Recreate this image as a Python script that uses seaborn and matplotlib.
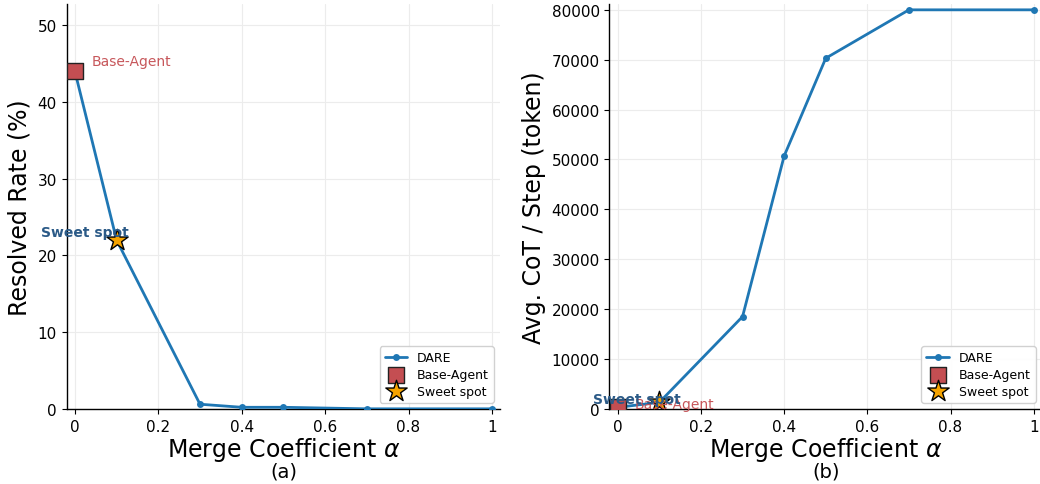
import matplotlib
matplotlib.use("Agg")
import matplotlib.pyplot as plt
import seaborn as sns
import pandas as pd

# Merge coefficient sweep (DARE merging)
alpha = [0.0, 0.1, 0.3, 0.4, 0.5, 0.7, 1.0]
resolved_rate = [44.0, 22.0, 0.6, 0.2, 0.2, 0.0, 0.0]
cot_tokens = [300, 1300, 18500, 50700, 70300, 80000, 80000]

# Reference points
base_alpha = 0.0
base_resolved = 44.0
base_cot = 300
sweet_alpha = 0.1
sweet_resolved = 22.0
sweet_cot = 1300

xticks = [0, 0.2, 0.4, 0.6, 0.8, 1.0]
xtick_labels = ["0", "0.2", "0.4", "0.6", "0.8", "1"]

sns.set_theme(style="ticks")
plt.rcParams["font.family"] = ["DejaVu Sans"]
plt.rcParams.update({
    "text.color": "black",
    "axes.labelcolor": "black",
    "xtick.color": "black",
    "ytick.color": "black",
    "axes.edgecolor": "black",
})

LINE_C = "#1f77b4"
BASE_C = "#c44e52"
STAR_C = "#f5a300"
SWEET_TXT = "#2b5a87"

df = pd.DataFrame({"alpha": alpha, "resolved": resolved_rate, "cot": cot_tokens})

fig = plt.figure(figsize=(10.4, 4.85), dpi=100)
ax1 = fig.add_axes([0.064, 0.155, 0.417, 0.835])
ax2 = fig.add_axes([0.586, 0.155, 0.416, 0.835])


def draw(ax, ycol, base_y, sweet_y, ylim, ylabel, tag, base_txt_xy, sweet_txt_xy):
    sns.lineplot(data=df, x="alpha", y=ycol, ax=ax, color=LINE_C, linewidth=2,
                 marker="o", markersize=5, markeredgewidth=0, label="DARE", zorder=3)
    sns.scatterplot(x=[base_alpha], y=[base_y], ax=ax, marker="s", s=120, color=BASE_C,
                    edgecolor="#222222", linewidth=1.0, label="Base-Agent", zorder=4)
    sns.scatterplot(x=[sweet_alpha], y=[sweet_y], ax=ax, marker="*", s=260, color=STAR_C,
                    edgecolor="black", linewidth=1.0, label="Sweet spot", zorder=5)
    ax.text(base_txt_xy[0], base_txt_xy[1], "Base-Agent", color=BASE_C, fontsize=10,
            ha="left", va="center", alpha=0.95, zorder=6)
    ax.text(sweet_txt_xy[0], sweet_txt_xy[1], "Sweet spot", color=SWEET_TXT, fontsize=10,
            fontweight="bold", ha="center", va="center", zorder=6)
    ax.set_xlim(-0.02, 1.02)
    ax.set_ylim(*ylim)
    ax.set_xticks(xticks)
    ax.set_xticklabels(xtick_labels)
    ax.tick_params(labelsize=11, length=3.5, width=0.8)
    ax.grid(True, color="#ececec", linewidth=0.8)
    ax.set_axisbelow(True)
    for side in ("left", "bottom"):
        ax.spines[side].set_linewidth(1.0)
    sns.despine(ax=ax)
    ax.set_xlabel(r"Merge Coefficient $\alpha$", fontsize=17, labelpad=1)
    ax.set_ylabel(ylabel, fontsize=17)
    ax.text(0.5, -0.13, tag, transform=ax.transAxes, ha="center", va="top", fontsize=14)
    ax.legend(loc="lower right", fontsize=9, frameon=True, framealpha=0.9,
              borderpad=0.4, handlelength=1.8, labelspacing=0.3)


draw(ax1, "resolved", base_resolved, sweet_resolved, (0, 52.8), "Resolved Rate (%)", "(a)",
     (0.04, 45.3), (0.025, 23.0))
draw(ax2, "cot", base_cot, sweet_cot, (0, 81200), "Avg. CoT / Step (token)", "(b)",
     (0.04, 900), (0.045, 1900))

fig.savefig("out.png", dpi=100)
